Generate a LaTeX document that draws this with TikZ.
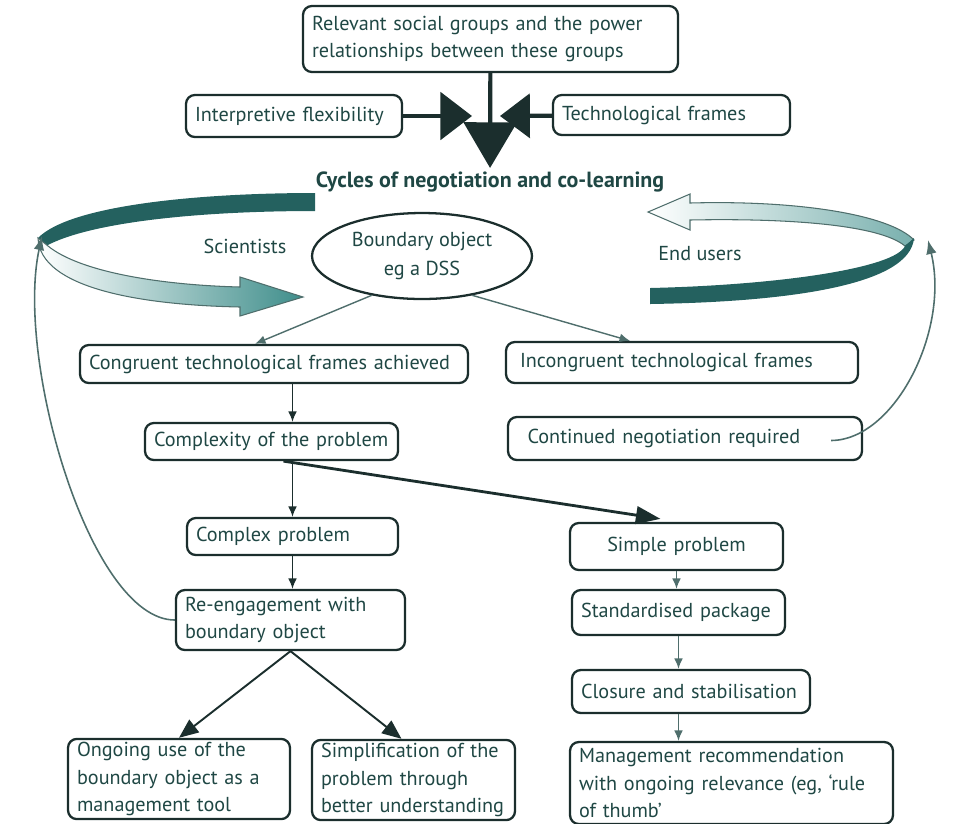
\documentclass[tikz,border=0pt]{standalone}
\usepackage{fontspec}
\setmainfont{PT Sans}
\usepackage{xcolor}
\usepackage{tikz}
\usetikzlibrary{arrows.meta, positioning, calc, shapes.geometric}
\definecolor{ink}{HTML}{1F4744}
\definecolor{linedark}{HTML}{1B2E2D}
\definecolor{linesoft}{HTML}{4F6E6C}
\definecolor{tealdark}{HTML}{24615F}
\definecolor{tealmid}{HTML}{3F8E8B}

\begin{document}
\begin{tikzpicture}[
	x=0.02cm, y=-0.02cm,
	box/.style={draw=linedark, line width=1.3pt, rounded corners=5pt, text=ink, align=left, inner xsep=0.18cm, inner ysep=2pt, font=\fontsize{11.5}{15.5}\selectfont},
	lbl/.style={text=ink, font=\fontsize{11.5}{15.5}\selectfont},
	link/.style={draw=linesoft, line width=0.8pt, -{Latex[length=6pt,width=5pt]}},
	bigarrow/.style={draw=linedark, line width=2.4pt},
	backarrow/.style={draw=linesoft, line width=0.9pt, -{Latex[length=8pt,width=6pt]}}
	]
	\useasboundingbox (0,0) rectangle (960,823);

	\node[box, text width=7.14cm, minimum height=1.32cm] (rel) at (490.5,39) {Relevant social groups and the power\\relationships between these groups};
	\node[box, text width=3.96cm, minimum height=0.84cm] (interp) at (294,116) {Interpretive flexibility};
	\node[box, text width=4.38cm, minimum height=0.8cm] (techf) at (671.5,115) {Technological frames};
	\node[text=ink, font=\bfseries\fontsize{12.5}{15}\selectfont, inner sep=2pt] (cycles) at (490,182) {Cycles of negotiation and co-learning};

	\node[draw=linedark, line width=1.3pt, ellipse, minimum width=4.4cm, minimum height=1.72cm, text=ink, align=center, font=\fontsize{11.5}{16}\selectfont] (bobj) at (422,256) {Boundary object\\eg a DSS};
	\node[lbl] (sci) at (245,246) {Scientists};
	\node[lbl] (endu) at (700,254) {End users};

	\node[box, text width=7.40cm, minimum height=0.76cm] (congr) at (274,364) {Congruent technological frames achieved};
	\node[box, text width=6.48cm, inner xsep=0.28cm, minimum height=0.82cm] (incongr) at (682,362.5) {Incongruent technological frames};
	\node[box, text width=4.70cm, minimum height=0.74cm] (cmplx) at (271.5,441.5) {Complexity of the problem};
	\node[box, text width=6.30cm, inner xsep=0.39cm, minimum height=0.86cm] (contneg) at (685,438.5) {Continued negotiation required};
	\node[box, text width=3.86cm, minimum height=0.74cm] (complexp) at (292.5,536.5) {Complex problem};
	\node[box, text width=3.90cm, minimum height=0.94cm, align=center] (simplep) at (676.5,546.5) {Simple problem};
	\node[box, text width=4.22cm, minimum height=1.2cm] (reeng) at (290.5,620) {Re-engagement with\\boundary object};
	\node[box, text width=3.90cm, minimum height=0.9cm] (stdpkg) at (678.5,612.5) {Standardised package};
	\node[box, text width=4.40cm, minimum height=0.86cm] (closure) at (691,691.5) {Closure and stabilisation};
	\node[box, text width=6.10cm, minimum height=1.64cm] (mgmt) at (731.5,783) {Management recommendation\\with ongoing relevance (eg, `rule\\of thumb'};
	\node[box, text width=4.08cm, minimum height=1.56cm] (ongoing) at (179,779) {Ongoing use of the\\boundary object as a\\management tool};
	\node[box, text width=3.70cm, minimum height=1.6cm] (simplif) at (413.5,780) {Simplification of the\\problem through\\better understanding};

	% ribbons
	\fill[tealdark] (315,193) .. controls (200,193) and (70,205) .. (38,238) -- (46,246) .. controls (90,222) and (200,211) .. (315,211) -- cycle;
	\draw[linesoft, line width=0.6pt, left color=white, right color=tealmid] (48,246) .. controls (80,272) and (160,285) .. (240,287) -- (240,277) -- (303,297) -- (240,316) -- (240,307) .. controls (140,305) and (40,288) .. (38,238) -- cycle;
	\draw[linesoft, line width=0.6pt, left color=white, right color=tealmid!70] (648,212) -- (690,194) -- (690,203) .. controls (800,200) and (890,215) .. (914,240) -- (905,246) .. controls (880,225) and (790,218) .. (690,220) -- (690,230) -- cycle;
	\fill[tealdark] (914,238) .. controls (910,287) and (780,302) .. (650,304) -- (650,288) .. controls (780,285) and (895,268) .. (905,246) -- cycle;

	\coordinate (hubL) at (472,116);
	\coordinate (hubR) at (500,116);
	\coordinate (scitip) at (42,236);
	\coordinate (endtip) at (928,240);

	\draw[bigarrow, -{Triangle[length=18pt,width=27pt]}] (interp) -- (hubL);
	\draw[bigarrow, -{Triangle[length=17pt,width=25pt]}] (techf) -- (hubR);
	\draw[bigarrow, -{Triangle[length=26pt,width=30pt]}] (rel) -- (cycles);

	\draw[link] (bobj.218) -- ($(congr.north)+(-19,0)$);
	\draw[link] (bobj.322) -- ($(incongr.north)+(-52,0)$);
	\draw[link, draw=linedark] (congr.south -| complexp) -- (cmplx.north -| complexp);
	\draw[link, draw=linedark] (cmplx.south -| complexp) -- (complexp.north);
	\draw[link, draw=linedark] (complexp.south) -- (complexp.south |- reeng.north);
	\draw[draw=linedark, line width=1.6pt, -{Triangle[length=14pt,width=10pt]}] ($(cmplx.south)+(12,0)$) -- ($(simplep.north)+(-16,-3)$);
	\draw[link] (simplep.south) -- (simplep.south |- stdpkg.north);
	\draw[link] (stdpkg.south) -- (stdpkg.south |- closure.north);
	\draw[link] (stdpkg.south |- closure.south) -- (stdpkg.south |- mgmt.north);
	\draw[draw=linedark, line width=1.1pt, -{Triangle[length=11pt,width=9pt]}] (reeng.south) -- (ongoing.north);
	\draw[draw=linedark, line width=1.1pt, -{Triangle[length=11pt,width=9pt]}] (reeng.south) -- ($(simplif.north)+(-12,0)$);

	\draw[backarrow] (reeng.west) .. controls (90,620) and (15,360) .. (scitip);
	\draw[backarrow] ($(contneg.east)+(-32,2)$) .. controls (895,440) and (950,330) .. (endtip);
\end{tikzpicture}
\end{document}
